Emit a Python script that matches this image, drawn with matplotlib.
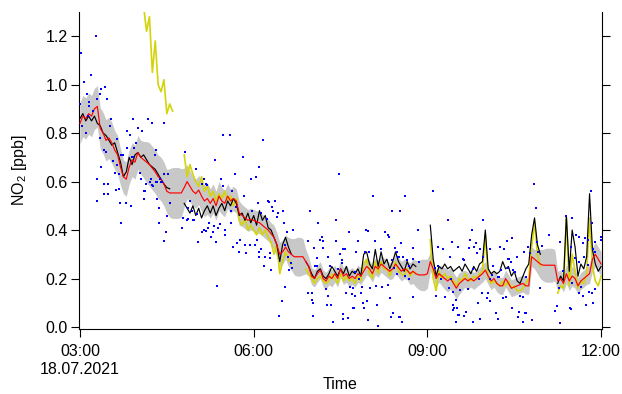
import numpy as np
import pandas as pd
import matplotlib
matplotlib.use('Agg')
import matplotlib.pyplot as plt
from matplotlib.ticker import FormatStrFormatter

plt.rcParams['font.family'] = ['Liberation Sans', 'DejaVu Sans']
plt.rcParams['mathtext.fontset'] = 'custom'
plt.rcParams['mathtext.rm'] = 'Liberation Sans'
plt.rcParams['mathtext.default'] = 'rm'

nan = np.nan
t0 = pd.Timestamp('2021-07-18 03:00')

# zeitraster: minuten nach 03:00, alle 3 min
minutes = np.arange(0, 541, 3)

# schwarze linie (messung)
black = [
    0.86, 0.88, 0.85, 0.87, 0.85, 0.87, 0.84, 0.83, 0.80, 0.79, 0.77, 0.75, 0.76, 0.72, 0.68, 0.62, 0.64, 0.70, 0.67, 0.71,
    0.72, 0.70, 0.71, 0.69, 0.67, 0.66, 0.65, 0.63, 0.61, 0.59, 0.575, 0.57, nan, nan, nan, nan, 0.51, 0.49, 0.47, 0.50,
    0.46, 0.49, 0.45, 0.48, 0.50, 0.47, 0.50, 0.46, 0.49, 0.51, 0.48, 0.52, 0.50, 0.53, 0.51, 0.46, 0.47, 0.44, 0.47, 0.43,
    0.46, 0.42, 0.48, 0.44, 0.46, 0.41, 0.40, 0.37, 0.34, 0.27, 0.34, 0.37, 0.33, 0.30, nan, nan, nan, nan, 0.27, 0.25,
    0.22, 0.20, 0.23, 0.24, 0.21, 0.20, 0.22, 0.25, 0.23, 0.21, 0.24, 0.22, 0.25, 0.21, 0.23, 0.22, 0.24, 0.21, 0.30, 0.31,
    0.26, 0.24, 0.32, 0.25, 0.31, 0.26, 0.28, 0.24, 0.27, 0.31, 0.27, 0.25, 0.23, 0.27, 0.24, 0.26, 0.25, nan, nan, nan,
    nan, 0.42, 0.28, 0.21, 0.25, 0.24, 0.26, 0.24, 0.25, 0.23, 0.24, 0.25, 0.23, 0.26, 0.24, 0.22, 0.25, 0.23, 0.26, 0.27,
    0.40, 0.24, 0.22, 0.23, 0.22, 0.23, 0.27, 0.24, 0.25, 0.21, 0.23, 0.19, 0.18, 0.21, 0.24, 0.26, 0.38, 0.45, 0.34, 0.30,
    nan, nan, nan, nan, nan, 0.18, 0.21, 0.19, 0.46, 0.23, 0.40, 0.33, 0.21, 0.26, 0.24, 0.29, 0.55, 0.32, 0.26, 0.23, 0.25,
]

# rote linie (mittel)
red = [
    0.84, 0.87, 0.86, 0.88, 0.87, 0.90, 0.91, 0.82, 0.80, 0.77, 0.78, 0.76, 0.73, 0.71, 0.66, 0.62, 0.61, 0.66, 0.69, 0.68,
    0.72, 0.70, 0.69, 0.68, 0.67, 0.655, 0.64, 0.62, 0.61, 0.59, 0.56, 0.553, 0.553, 0.553, 0.553, 0.553, 0.575, 0.60, 0.58, 0.56,
    0.55, 0.565, 0.54, 0.52, 0.53, 0.51, 0.53, 0.50, 0.54, 0.52, 0.51, 0.54, 0.52, 0.53, 0.52, 0.47, 0.46, 0.45, 0.44, 0.445,
    0.44, 0.435, 0.43, 0.42, 0.41, 0.40, 0.385, 0.37, 0.34, 0.30, 0.31, 0.33, 0.31, 0.30, 0.29, 0.29, 0.29, 0.29, 0.27, 0.25,
    0.21, 0.20, 0.22, 0.235, 0.20, 0.19, 0.21, 0.20, 0.22, 0.20, 0.24, 0.21, 0.22, 0.20, 0.21, 0.20, 0.22, 0.21, 0.23, 0.25,
    0.24, 0.22, 0.25, 0.24, 0.26, 0.25, 0.24, 0.23, 0.24, 0.26, 0.245, 0.23, 0.24, 0.235, 0.22, 0.23, 0.22, 0.215, 0.215, 0.215,
    0.22, 0.27, 0.24, 0.20, 0.22, 0.21, 0.20, 0.19, 0.20, 0.18, 0.16, 0.18, 0.19, 0.20, 0.19, 0.20, 0.19, 0.20, 0.21, 0.22,
    0.235, 0.21, 0.19, 0.20, 0.18, 0.17, 0.17, 0.20, 0.18, 0.16, 0.165, 0.17, 0.175, 0.18, 0.17, 0.17, 0.29, 0.28, 0.27, 0.26,
    0.255, 0.255, 0.255, 0.255, 0.255, 0.19, 0.20, 0.18, 0.22, 0.19, 0.21, 0.20, 0.17, 0.19, 0.20, 0.21, 0.22, 0.28, 0.30, 0.28, 0.26,
]

# halbe breite des grauen bandes um die rote linie
spread = [
    0.085, 0.085, 0.085, 0.085, 0.085, 0.085, 0.085, 0.085, 0.085, 0.085, 0.085, 0.085, 0.08, 0.08, 0.075, 0.07, 0.07, 0.07, 0.07, 0.07,
    0.07, 0.07, 0.075, 0.085, 0.09, 0.09, 0.09, 0.09, 0.09, 0.09, 0.09, 0.10, 0.105, 0.105, 0.105, 0.10, 0.08, 0.07, 0.065, 0.06,
    0.06, 0.06, 0.065, 0.065, 0.065, 0.06, 0.06, 0.06, 0.06, 0.055, 0.055, 0.05, 0.05, 0.05, 0.05, 0.05, 0.045, 0.045, 0.045, 0.045,
    0.045, 0.045, 0.045, 0.045, 0.045, 0.045, 0.045, 0.05, 0.05, 0.05, 0.05, 0.05, 0.06, 0.065, 0.075, 0.08, 0.08, 0.075, 0.05, 0.04,
    0.035, 0.035, 0.035, 0.035, 0.035, 0.035, 0.035, 0.035, 0.035, 0.035, 0.035, 0.035, 0.035, 0.035, 0.035, 0.035, 0.035, 0.035, 0.035, 0.035,
    0.035, 0.035, 0.035, 0.035, 0.035, 0.035, 0.035, 0.035, 0.04, 0.04, 0.04, 0.04, 0.04, 0.04, 0.045, 0.05, 0.055, 0.06, 0.065, 0.065,
    0.06, 0.04, 0.035, 0.035, 0.035, 0.04, 0.045, 0.045, 0.045, 0.045, 0.045, 0.045, 0.04, 0.035, 0.035, 0.035, 0.035, 0.035, 0.035, 0.035,
    0.035, 0.035, 0.035, 0.035, 0.035, 0.035, 0.035, 0.035, 0.035, 0.035, 0.035, 0.035, 0.035, 0.035, 0.035, 0.035, 0.04, 0.04, 0.05, 0.06,
    0.065, 0.07, 0.07, 0.07, 0.065, 0.04, 0.035, 0.035, 0.04, 0.04, 0.04, 0.04, 0.035, 0.035, 0.035, 0.035, 0.04, 0.05, 0.05, 0.05, 0.05,
]

# gelbe linie (zweites instrument)
yellow = [
    nan, nan, nan, nan, nan, nan, nan, nan, nan, nan, nan, nan, nan, nan, nan, nan, nan, nan, nan, nan,
    nan, nan, 1.32, 1.22, 1.28, 1.05, 1.18, 1.00, 0.97, 1.02, 0.88, 0.92, 0.89, nan, nan, nan, 0.71, 0.62, 0.67, 0.63,
    0.60, 0.58, 0.62, 0.56, 0.58, 0.54, 0.56, 0.52, 0.55, 0.53, 0.56, 0.52, 0.54, 0.50, 0.53, 0.44, 0.42, 0.45, 0.40, 0.42,
    0.40, 0.38, 0.41, 0.38, 0.40, 0.37, 0.35, 0.30, 0.34, 0.22, 0.27, 0.31, 0.28, 0.26, nan, nan, nan, nan, 0.24, 0.22,
    0.20, 0.18, 0.20, 0.21, 0.19, 0.18, 0.19, 0.22, 0.20, 0.18, 0.22, 0.19, 0.21, 0.19, 0.20, 0.18, 0.21, 0.19, 0.26, 0.28,
    0.22, 0.20, 0.27, 0.22, 0.27, 0.24, 0.24, 0.21, 0.24, 0.27, 0.23, 0.22, 0.21, 0.24, 0.21, 0.23, 0.22, nan, nan, nan,
    nan, 0.36, 0.20, 0.15, 0.23, 0.20, 0.22, 0.20, 0.21, 0.19, 0.17, 0.20, 0.19, 0.22, 0.20, 0.19, 0.21, 0.20, 0.22, 0.23,
    0.38, 0.20, 0.18, 0.19, 0.18, 0.17, 0.19, 0.17, 0.19, 0.16, 0.17, 0.15, 0.15, 0.16, 0.18, 0.20, 0.33, 0.43, 0.30, 0.25,
    nan, nan, nan, nan, nan, 0.14, 0.17, 0.16, 0.45, 0.17, 0.30, 0.23, 0.16, 0.19, 0.18, 0.22, 0.45, 0.25, 0.19, 0.17, 0.21,
]

# blaue punkte: einzelwerte (minuten nach 03:00, ppb)
dot_min = [
    0, 1, 2, 4, 6, 7, 8, 9, 9, 11,
    13, 17, 18, 18, 18, 21, 21, 22, 22, 25,
    25, 25, 26, 27, 28, 29, 29, 31, 32, 34,
    36, 37, 38, 38, 40, 40, 41, 43, 43, 45,
    48, 49, 49, 52, 53, 54, 55, 55, 56, 58,
    60, 62, 63, 64, 66, 66, 67, 68, 71, 73,
    74, 75, 75, 76, 78, 79, 79, 80, 80, 82,
    82, 83, 84, 85, 87, 87, 87, 89, 90, 91,
    93, 106, 107, 109, 111, 112, 112, 114, 116, 117,
    118, 120, 121, 122, 126, 126, 129, 129, 131, 131,
    132, 133, 134, 136, 138, 139, 140, 141, 142, 143,
    145, 146, 148, 148, 150, 150, 155, 156, 157, 158,
    159, 161, 162, 163, 165, 166, 169, 170, 171, 172,
    176, 177, 178, 181, 182, 183, 184, 185, 186, 186,
    188, 188, 190, 191, 192, 194, 195, 196, 197, 198,
    199, 200, 202, 204, 205, 206, 209, 210, 211, 212,
    212, 215, 216, 217, 219, 220, 221, 236, 236, 238,
    197, 240, 240, 241, 241, 242, 244, 246, 246, 247,
    249, 251, 252, 252, 255, 256, 257, 257, 259, 260,
    262, 265, 265, 267, 268, 269, 272, 272, 273, 273,
    273, 275, 276, 278, 279, 280, 282, 283, 283, 284,
    285, 285, 286, 288, 289, 291, 292, 293, 294, 295,
    296, 297, 298, 298, 299, 301, 304, 306, 307, 308,
    309, 312, 313, 316, 319, 319, 320, 321, 322, 323,
    323, 324, 325, 326, 328, 329, 330, 331, 331, 332,
    332, 333, 334, 335, 337, 337, 339, 341, 341, 345,
    345, 345, 350, 351, 366, 368, 369, 371, 371, 374,
    376, 378, 381, 382, 383, 384, 385, 386, 387, 387,
    388, 390, 390, 391, 392, 392, 393, 394, 397, 398,
    398, 400, 402, 403, 404, 406, 407, 407, 408, 410,
    411, 412, 413, 414, 415, 417, 418, 418, 422, 423,
    425, 425, 425, 427, 428, 431, 433, 433, 434, 435,
    436, 438, 439, 441, 442, 444, 444, 445, 447, 448,
    448, 449, 451, 453, 454, 455, 456, 459, 459, 460,
    461, 462, 462, 464, 466, 468, 470, 473, 474, 475,
    477, 479, 486, 492, 494, 496, 497, 497, 501, 504,
    508, 509, 509, 510, 510, 513, 514, 517, 517, 517,
    519, 521, 521, 522, 523, 524, 526, 526, 527, 529,
    531, 531, 532, 532, 534, 534, 534, 540, 540,
]
dot_val = [
    0.92, 1.13, 0.83, 1.01, 0.80, 0.96, 0.87, 0.93, 0.91, 1.04,
    0.89, 1.20, 0.94, 0.61, 0.52, 0.78, 0.96, 0.98, 0.66, 0.73,
    0.59, 0.55, 0.99, 0.72, 0.94, 0.59, 0.55, 0.83, 0.86, 0.685,
    0.635, 0.565, 0.775, 0.67, 0.57, 0.63, 0.51, 0.71, 0.43, 0.71,
    0.51, 0.81, 0.74, 0.79, 0.50, 0.70, 0.86, 0.70, 0.74, 0.76,
    0.82, 0.635, 0.61, 0.81, 0.56, 0.53, 0.56, 0.59, 0.86, 0.60,
    0.61, 0.84, 0.585, 0.58, 0.71, 0.73, 0.60, 0.60, 0.53, 0.43,
    0.49, 0.61, 0.60, 0.60, 0.84, 0.63, 0.355, 0.39, 0.46, 0.63,
    0.51, 0.41, 0.45, 0.72, 0.44, 0.445, 0.49, 0.52, 0.48, 0.44,
    0.44, 0.65, 0.465, 0.35, 0.39, 0.59, 0.40, 0.61, 0.59, 0.395,
    0.585, 0.41, 0.43, 0.37, 0.39, 0.415, 0.69, 0.35, 0.17, 0.41,
    0.425, 0.61, 0.79, 0.58, 0.40, 0.38, 0.79, 0.43, 0.48, 0.56,
    0.33, 0.63, 0.495, 0.345, 0.31, 0.36, 0.70, 0.54, 0.34, 0.305,
    0.34, 0.61, 0.48, 0.34, 0.62, 0.36, 0.51, 0.31, 0.66, 0.29,
    0.47, 0.32, 0.77, 0.25, 0.29, 0.445, 0.52, 0.515, 0.285, 0.235,
    0.495, 0.48, 0.52, 0.455, 0.47, 0.045, 0.107, 0.48, 0.43, 0.165,
    0.34, 0.39, 0.29, 0.235, 0.265, 0.245, 0.40, 0.14, 0.355, 0.48,
    0.305, 0.11, 0.14, 0.045, 0.10, 0.325, 0.25, 0.25, 0.285, 0.43,
    0.36, 0.37, 0.355, 0.325, 0.157, 0.09, 0.29, 0.13, 0.25, 0.09,
    0.02, 0.44, 0.355, 0.24, 0.63, 0.30, 0.265, 0.275, 0.054, 0.32,
    0.033, 0.32, 0.14, 0.037, 0.39, 0.165, 0.136, 0.08, 0.16, 0.078,
    0.13, 0.225, 0.31, 0.355, 0.20, 0.14, 0.165, 0.10, 0.08, 0.31,
    0.40, 0.107, 0.03, 0.395, 0.31, 0.16, 0.54, 0.355, 0.17, 0.09,
    0.004, 0.32, 0.165, 0.39, 0.38, 0.175, 0.37, 0.12, 0.04, 0.48,
    0.275, 0.058, 0.245, 0.325, 0.31, 0.22, 0.29, 0.29, 0.04, 0.48,
    0.04, 0.346, 0.02, 0.29, 0.54, 0.21, 0.275, 0.25, 0.198, 0.125,
    0.325, 0.28, 0.40, 0.27, 0.56, 0.245, 0.13, 0.33, 0.25, 0.20,
    0.32, 0.124, 0.44, 0.16, 0.29, 0.20, 0.35, 0.07, 0.144, 0.09,
    0.08, 0.02, 0.11, 0.08, 0.33, 0.05, 0.05, 0.153, 0.28, 0.045,
    0.276, 0.062, 0.157, 0.326, 0.36, 0.40, 0.24, 0.02, 0.33, 0.346,
    0.305, 0.10, 0.198, 0.32, 0.033, 0.14, 0.44, 0.29, 0.12, 0.14,
    0.32, 0.198, 0.107, 0.215, 0.25, 0.06, 0.033, 0.206, 0.206, 0.33,
    0.235, 0.12, 0.32, 0.124, 0.355, 0.28, 0.243, 0.28, 0.27, 0.078,
    0.367, 0.235, 0.227, 0.29, 0.04, 0.062, 0.128, 0.02, 0.124, 0.31,
    0.058, 0.206, 0.058, 0.33, 0.305, 0.03, 0.59, 0.49, 0.35, 0.31,
    0.16, 0.334, 0.38, 0.066, 0.087, 0.16, 0.016, 0.35, 0.23, 0.46,
    0.078, 0.33, 0.074, 0.45, 0.18, 0.285, 0.38, 0.37, 0.268, 0.14,
    0.165, 0.346, 0.128, 0.29, 0.367, 0.09, 0.36, 0.256, 0.144, 0.56,
    0.43, 0.14, 0.32, 0.10, 0.35, 0.157, 0.31, 0.36, 0.37,
]

tick_min = [0, 180, 360, 540]
tick_labels = ['03:00\n18.07.2021', '06:00', '09:00', '12:00']
yticks = [0.0, 0.2, 0.4, 0.6, 0.8, 1.0, 1.2]

t = t0 + pd.to_timedelta(minutes, unit='min')
t_dots = t0 + pd.to_timedelta(dot_min, unit='min')
red = np.array(red)
spread = np.array(spread)

fig, ax = plt.subplots(figsize=(6.22, 3.94), dpi=100)
fig.subplots_adjust(left=0.127, right=0.968, top=0.97, bottom=0.165)

ax.fill_between(t, red - spread, red + spread, color='#c8c8c8', lw=0, zorder=1)
ax.plot(t, yellow, color='#d4d40a', lw=1.2, zorder=2)
ax.plot(t, black, color='black', lw=0.85, zorder=3)
ax.plot(t, red, color='#ff0000', lw=0.85, zorder=4)
ax.scatter(t_dots, dot_val, s=3, marker='s', color='#0000ff', lw=0, zorder=5)

ax.set_xlim(t0 - pd.Timedelta(minutes=1), t0 + pd.Timedelta(minutes=541))
ax.set_ylim(-0.008, 1.30)
ax.set_xticks(t0 + pd.to_timedelta(tick_min, unit='min'))
ax.set_xticklabels(tick_labels)
ax.set_yticks(yticks)
ax.yaxis.set_major_formatter(FormatStrFormatter('%.1f'))

ax.spines['top'].set_visible(False)
for s in ['left', 'right', 'bottom']:
    ax.spines[s].set_linewidth(0.8)
ax.tick_params(axis='both', direction='out', length=6, width=0.8, labelsize=11.5)
ax.tick_params(axis='y', right=True, labelright=False, pad=2)
ax.tick_params(axis='x', pad=5)

ax.set_xlabel('Time', fontsize=11.5, labelpad=0)
ax.set_ylabel('NO$_2$ [ppb]', fontsize=11.5, labelpad=12)

fig.savefig('out.png', dpi=100)
